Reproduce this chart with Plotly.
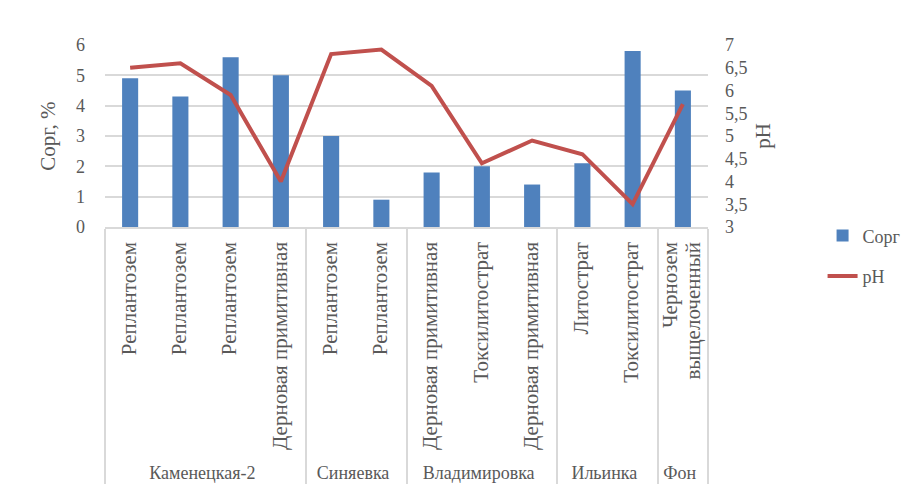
import plotly.graph_objects as go

groups = ["Каменецкая-2"] * 4 + ["Синяевка"] * 2 + ["Владимировка"] * 3 + ["Ильинка"] * 2 + ["Фон"]
soils = ["Реплантозем", "Реплантозем\u200b", "Реплантозем\u200b\u200b", "Дерновая примитивная",
         "Реплантозем", "Реплантозем\u200b",
         "Дерновая примитивная", "Токсилитострат", "Дерновая примитивная\u200b",
         "Литострат", "Токсилитострат\u200b\u200b",
         "Чернозем<br>выщелоченный"]
corg = [4.9, 4.3, 5.6, 5.0, 3.0, 0.9, 1.8, 2.0, 1.4, 2.1, 5.8, 4.5]
ph = [6.5, 6.6, 5.9, 4.0, 6.8, 6.9, 6.1, 4.4, 4.9, 4.6, 3.5, 5.7]

FONT = "Liberation Serif"
GREY = "#595959"
GRID = "#d9d9d9"


def big(label, size=21):
    return "<br>".join(f"<span style='font-size:{size}px'>{p}</span>" for p in label.split("<br>"))


soil_labels = [big(s) for s in soils]

fig = go.Figure()
fig.add_trace(go.Bar(x=[groups, soil_labels], y=corg, name="Сорг", width=0.32,
                     marker=dict(color="#4f81bd", line=dict(width=0)),
                     legendgroup="a"))
fig.add_trace(go.Scatter(x=[groups, soil_labels], y=ph, name="pH", mode="lines",
                         line=dict(color="#c0504d", width=4), yaxis="y2",
                         legendgroup="b"))

fig.update_layout(
    width=916, height=486,
    margin=dict(l=97, r=216, t=37, b=257),
    paper_bgcolor="white", plot_bgcolor="white",
    font=dict(family=FONT, size=18, color=GREY),
    separators=", ",
    showlegend=True,
    legend=dict(x=1.19, y=0.053, xanchor="left", yanchor="top",
                font=dict(family=FONT, size=18, color=GREY),
                tracegroupgap=14, bgcolor="rgba(0,0,0,0)"),
    xaxis=dict(type="multicategory", tickangle=-90, showdividers=True,
               dividercolor=GRID, dividerwidth=1.5, showline=True,
               linecolor=GRID, linewidth=1.5, ticks="", ticklabelstandoff=6,
               showgrid=False,
               tickfont=dict(family=FONT, size=18, color=GREY)),
    yaxis=dict(range=[0, 6], dtick=1, showgrid=True, gridcolor=GRID, gridwidth=1.5,
               zeroline=False, ticks="", tickfont=dict(size=18), ticklabelstandoff=19,
               title=dict(text="Сорг, %", font=dict(size=21), standoff=14)),
    yaxis2=dict(range=[3, 7], dtick=0.5, overlaying="y", side="right",
                showgrid=False, zeroline=False, ticks="",
                tickfont=dict(size=18), ticklabelstandoff=16,
                title=dict(text="pH", font=dict(size=21), standoff=8)),
)

fig.write_html("out.html")
